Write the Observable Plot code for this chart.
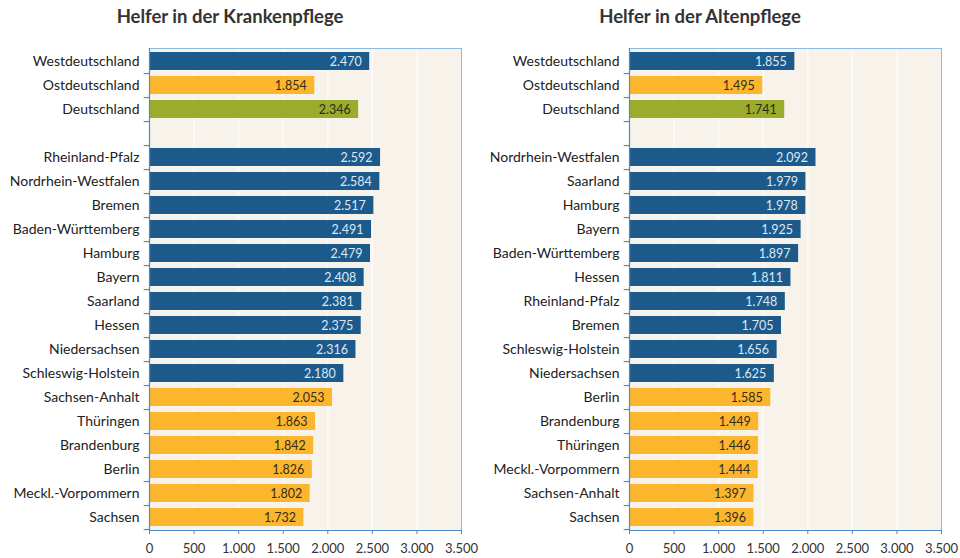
<!DOCTYPE html>
<html>
<head>
<meta charset="utf-8">
<script src="https://cdn.jsdelivr.net/npm/d3@7"></script>
<script src="https://cdn.jsdelivr.net/npm/@observablehq/plot@0.6"></script>
<style>
  body { margin: 0; background: #ffffff; width: 960px; height: 558px; overflow: hidden; font-family: Lato, "Open Sans", sans-serif; }
  .panel { position: absolute; top: 0; width: 480px; height: 558px; }
  .title { position: absolute; top: 5px; transform: translateX(-50%); white-space: nowrap;
           font: bold 18.5px Lato, sans-serif; color: #333; }
  .chart { position: absolute; top: 36px; left: 0; }
</style>
</head>
<body>
<div class="panel" id="left" style="left:0"><div class="title" style="left:230px">Helfer in der Krankenpflege</div><div class="chart"></div></div>
<div class="panel" id="right" style="left:480px"><div class="title" style="left:220px">Helfer in der Altenpflege</div><div class="chart"></div></div>
<script>
// --- Data: Helfer in der Krankenpflege ---
const regionsK = ["Westdeutschland", "Ostdeutschland", "Deutschland",
  "Rheinland-Pfalz", "Nordrhein-Westfalen", "Bremen", "Baden-Württemberg", "Hamburg",
  "Bayern", "Saarland", "Hessen", "Niedersachsen", "Schleswig-Holstein",
  "Sachsen-Anhalt", "Thüringen", "Brandenburg", "Berlin", "Meckl.-Vorpommern", "Sachsen"];
const valuesK = [2470, 1854, 2346, 2592, 2584, 2517, 2491, 2479, 2408, 2381, 2375, 2316, 2180,
  2053, 1863, 1842, 1826, 1802, 1732];
const groupsK = ["West", "Ost", "Gesamt", "West", "West", "West", "West", "West", "West", "West",
  "West", "West", "West", "Ost", "Ost", "Ost", "Ost", "Ost", "Ost"];

// --- Data: Helfer in der Altenpflege ---
const regionsA = ["Westdeutschland", "Ostdeutschland", "Deutschland",
  "Nordrhein-Westfalen", "Saarland", "Hamburg", "Bayern", "Baden-Württemberg", "Hessen",
  "Rheinland-Pfalz", "Bremen", "Schleswig-Holstein", "Niedersachsen",
  "Berlin", "Brandenburg", "Thüringen", "Meckl.-Vorpommern", "Sachsen-Anhalt", "Sachsen"];
const valuesA = [1855, 1495, 1741, 2092, 1979, 1978, 1925, 1897, 1811, 1748, 1705, 1656, 1625,
  1585, 1449, 1446, 1444, 1397, 1396];
const groupsA = ["West", "Ost", "Gesamt", "West", "West", "West", "West", "West", "West", "West",
  "West", "West", "West", "Ost", "Ost", "Ost", "Ost", "Ost", "Ost"];

const xTicks = [0, 500, 1000, 1500, 2000, 2500, 3000, 3500];
const GAP = "__gap__";

const barColors = {West: "#1c5a8c", Ost: "#fbb62d", Gesamt: "#9bab2c"};
const textColors = {West: "#dce8f4", Ost: "#352c1a", Gesamt: "#2a2e14"};
const deFormat = d => d3.format(",")(d).replace(/,/g, ".");

function chart(regions, values, groups) {
  const data = regions.map((r, i) => ({region: r, value: values[i], group: groups[i]}));
  const domain = [...regions.slice(0, 3), GAP, ...regions.slice(3)];
  const height = 522;
  const step = (height - 12 - 28) / domain.length;
  return Plot.plot({
    width: 480,
    height,
    marginTop: 12,
    marginBottom: 28,
    marginLeft: 149,
    marginRight: 19,
    style: {fontFamily: "Lato, 'Open Sans', sans-serif", background: "transparent"},
    x: {domain: [0, 3500], axis: null},
    y: {domain, paddingInner: 0.25, paddingOuter: 0.125, axis: null},
    marks: [
      Plot.frame({fill: "#f7f2ea", stroke: null}),
      Plot.gridX(xTicks, {stroke: "#ffffff", strokeOpacity: 0.7, strokeWidth: 1.5}),
      Plot.barX(data, {y: "region", x: "value", fill: d => barColors[d.group]}),
      Plot.text(data, {y: "region", x: "value", text: d => deFormat(d.value), textAnchor: "end", dx: -8,
        fill: d => textColors[d.group], fontSize: 12.5}),
      Plot.frame({stroke: "#8dbbe0", strokeWidth: 1}),
      Plot.ruleX([0], {stroke: "#4d8cc6", strokeWidth: 1.2}),
      Plot.ruleY(domain, {y: d => d, x1: -60, x2: 0, dy: step / 2, stroke: "#4d8cc6", strokeWidth: 1.2}),
      Plot.axisY({tickSize: 0, tickPadding: 10, fontSize: 14, fill: "#222", label: null,
        tickFormat: d => d === GAP ? "" : d}),
      Plot.axisX(xTicks, {anchor: "bottom", tickSize: 4, tickPadding: 9, fontSize: 13, label: null,
        stroke: "#4d8cc6", fill: "#333", tickFormat: deFormat}),
      Plot.frame({anchor: "bottom", stroke: "#4d8cc6"})
    ]
  });
}

document.querySelector("#left .chart").appendChild(chart(regionsK, valuesK, groupsK));
document.querySelector("#right .chart").appendChild(chart(regionsA, valuesA, groupsA));
</script>
</body>
</html>
